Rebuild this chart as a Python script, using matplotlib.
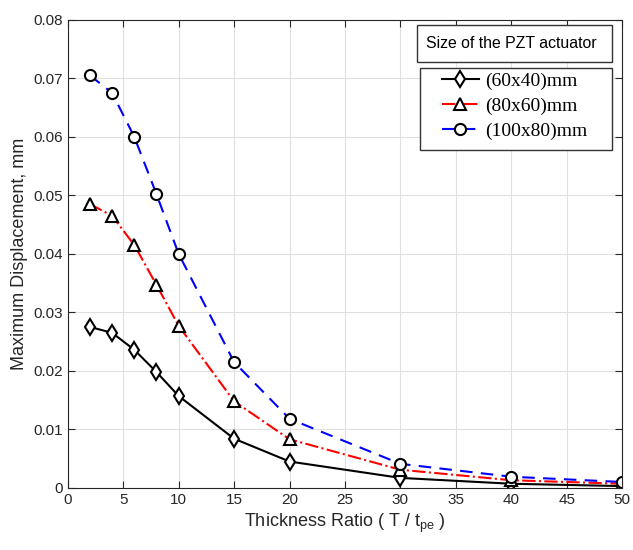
import numpy as np
import matplotlib.pyplot as plt
from matplotlib.patches import Rectangle

plt.rcParams['font.family'] = ['Liberation Sans', 'DejaVu Sans']
plt.rcParams['mathtext.default'] = 'regular'

# data
ratio = [2, 4, 6, 8, 10, 15, 20, 30, 40, 50]
disp_60x40 = [0.0275, 0.0265, 0.0236, 0.0198, 0.0157, 0.0084, 0.0045, 0.0017, 0.0007, 0.0003]
disp_80x60 = [0.0485, 0.0465, 0.0415, 0.0347, 0.0277, 0.0148, 0.0083, 0.0031, 0.0013, 0.0007]
disp_100x80 = [0.0705, 0.0675, 0.0600, 0.0502, 0.0400, 0.0215, 0.0118, 0.0041, 0.0019, 0.0010]
labels = ['(60x40)mm', '(80x60)mm', '(100x80)mm']

fig = plt.figure(figsize=(6.33, 5.5), dpi=100)
ax = fig.add_axes([0.107, 0.113, 0.876, 0.851])

mk = dict(markerfacecolor='white', markeredgecolor='black', markeredgewidth=1.5, markersize=8)
l1, = ax.plot(ratio, disp_60x40, '-', color='black', lw=1.5, marker='d', **mk)
l2, = ax.plot(ratio, disp_80x60, '-.', color='red', lw=1.5, marker='^', **mk)
l3, = ax.plot(ratio, disp_100x80, '--', color='blue', lw=1.5, marker='o', dashes=(6, 4), **mk)

ax.set_xlim(0, 50)
ax.set_ylim(0, 0.08)
ax.set_xticks(np.arange(0, 51, 5))
ax.set_yticks(np.arange(0, 0.081, 0.01))
ax.set_yticklabels(['0'] + ['%.2f' % v for v in np.arange(0.01, 0.081, 0.01)])
ax.grid(True, color='#e0e0e0', lw=0.8)
ax.set_axisbelow(True)
ax.tick_params(direction='in', labelsize=11, colors='#262626', right=True, top=True, length=5)
for s in ax.spines.values():
    s.set_color('#262626')

ax.set_xlabel('Thickness Ratio ( T / t$_{pe}$ )', fontsize=13, color='#262626')
ax.set_ylabel('Maximum Displacement, mm', fontsize=13, color='#262626')

# legend title in its own box
fig.patches.append(Rectangle((417/633, 1 - 62/550), 195/633, 37/550, transform=fig.transFigure,
                             fc='white', ec='#333333', lw=1, zorder=5))
fig.text(426/633, 1 - 44/550, 'Size of the PZT actuator', fontsize=11.4, va='center',
         ha='left', zorder=6)

# legend box
fig.patches.append(Rectangle((420/633, 1 - 150/550), 192/633, 82/550, transform=fig.transFigure,
                             fc='white', ec='#333333', lw=1, zorder=5))
leg = fig.legend([l1, l2, l3], labels, loc='upper left', bbox_to_anchor=(440/633, 1 - 70/550),
                 prop={'family': 'Liberation Serif', 'size': 14}, frameon=False,
                 handlelength=1.9, handletextpad=0.3, borderpad=0.1,
                 labelspacing=0.38, borderaxespad=0)
leg.set_zorder(7)

fig.savefig('out.png', dpi=100)
